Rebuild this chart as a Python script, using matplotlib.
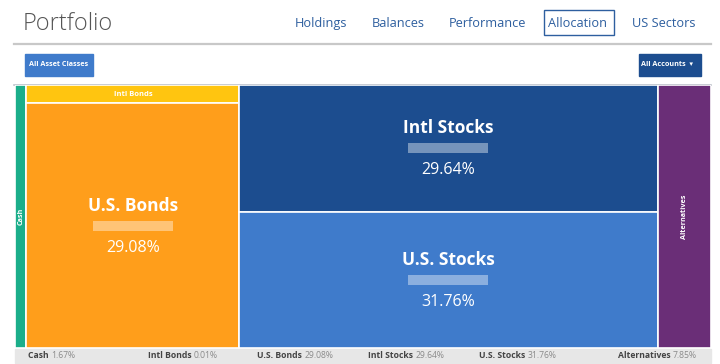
import matplotlib.pyplot as plt
from matplotlib.patches import Rectangle

# allocation data
groups = ["Cash", "Bonds", "Stocks", "Alternatives"]
names = ["Cash", "Intl Bonds", "U.S. Bonds", "Intl Stocks", "U.S. Stocks", "Alternatives"]
group_of = ["Cash", "Bonds", "Bonds", "Stocks", "Stocks", "Alternatives"]
values = [1.67, 0.01, 29.08, 29.64, 31.76, 7.85]
colors = ["#1bae8a", "#ffc510", "#ff9e1b", "#1c4d8f", "#3f7bcb", "#6a2e77"]
nav_items = ["Holdings", "Balances", "Performance", "Allocation", "US Sectors"]
nav_x = [321, 398, 487, 578, 664]
footer_x = [28, 148, 257, 368, 479, 697]

min_display = 2.2  # tiny tiles get a minimum visible size
shown = [max(v, min_display) if g in ("Bonds", "Stocks") and v < 1 else v
         for v, g in zip(values, group_of)]

plt.rcParams["font.family"] = ["Open Sans", "DejaVu Sans"]

fig = plt.figure(figsize=(7.2, 3.64), dpi=100)

# page layer in pixel coordinates
page = fig.add_axes([0, 0, 1, 1])
page.set_xlim(0, 720)
page.set_ylim(364, 0)
page.axis("off")

page.text(23, 30, "Portfolio", fontsize=17, color="#555555", va="baseline", fontweight="light")
for label, x in zip(nav_items, nav_x):
    page.text(x, 27, label, fontsize=9.2, color="#2e5f9f", ha="center", va="baseline")
page.add_patch(Rectangle((544, 10), 70, 25, fill=False, edgecolor="#2e5f9f", lw=1))
page.plot([14, 711], [44, 44], color="#c8c8c8", lw=1.6)

page.add_patch(Rectangle((25, 54), 68, 22, color="#3f7bcb"))
page.text(59, 65, "All Asset Classes", fontsize=5.2, color="white", ha="center", va="center", fontweight="bold")
page.add_patch(Rectangle((639, 54), 62, 22, color="#1c4d8f"))
page.text(667, 65, "All Accounts  \u25be", fontsize=5.2, color="white", ha="center", va="center", fontweight="bold")

page.plot([14, 711], [84.5, 84.5], color="#bfc3cc", lw=1.2)
page.add_patch(Rectangle((15, 349), 696, 14, color="#e7e7e7"))
fs_foot = 6.2
for i, (name, val) in enumerate(zip(names, values)):
    ha = "right" if i == len(names) - 1 else "left"
    t = page.text(footer_x[i], 355.5, f"{val:.2f}%", fontsize=fs_foot, color="#8a8a8a",
                  ha=ha, va="center")
    fig.canvas.draw()
    if ha == "left":
        bb = page.text(footer_x[i], 355.5, name + " ", fontsize=fs_foot, color="#444444",
                       fontweight="bold", va="center")
        w = bb.get_window_extent().width
        t.set_position((footer_x[i] + w * 720 / fig.bbox.width, 355.5))
    else:
        w = t.get_window_extent().width
        page.text(footer_x[i] - w * 720 / fig.bbox.width, 355.5, name + " ", fontsize=fs_foot,
                  color="#444444", fontweight="bold", va="center", ha="right")

# treemap layer in data coordinates
ax = fig.add_axes([15 / 720, 1 - 348 / 364, 696 / 720, 263 / 364])
group_tot = {g: sum(s for s, gg in zip(shown, group_of) if gg == g) for g in groups}
total = sum(group_tot.values())
ax.set_xlim(0, total)
ax.set_ylim(1, 0)
ax.axis("off")

px_y = 1 / 263          # one pixel in axes y units
px_x = total / 696      # one pixel in axes x units

x0 = 0
for g in groups:
    w = group_tot[g]
    y0 = 0
    for name, val, s, gg, c in zip(names, values, shown, group_of, colors):
        if gg != g:
            continue
        h = s / w
        ax.add_patch(Rectangle((x0, y0), w, h, facecolor=c, edgecolor="white", lw=1.2))
        cx, cy = x0 + w / 2, y0 + h / 2
        if g in ("Cash", "Alternatives"):
            ax.text(cx, cy, name, rotation=90, color="white", fontsize=5.2,
                    fontweight="bold", ha="center", va="center")
        elif h < 0.1:
            ax.text(cx, cy, name, color="white", fontsize=5.4, fontweight="bold",
                    ha="center", va="center")
        else:
            ax.text(cx, cy - 20 * px_y, name, color="white", fontsize=12.5, fontweight="bold",
                    ha="center", va="center")
            ax.add_patch(Rectangle((cx - 40 * px_x, cy - 5 * px_y), 80 * px_x, 10 * px_y,
                                   facecolor="white", alpha=0.4, lw=0))
            ax.text(cx, cy + 22 * px_y, f"{val:.2f}%", color="white", fontsize=11.5,
                    ha="center", va="center")
        y0 += h
    x0 += w

fig.savefig("out.png", dpi=100)
